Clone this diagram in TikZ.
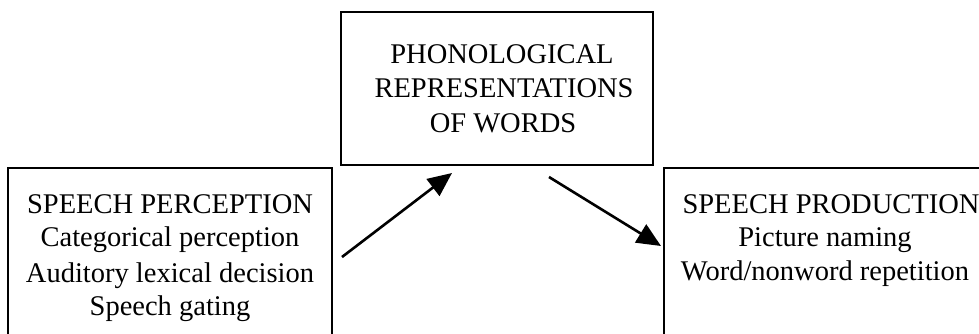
\documentclass[tikz,border=0pt]{standalone}
\usepackage{fontspec}
\setmainfont{Liberation Serif}
\usetikzlibrary{arrows.meta}
\begin{document}
\begin{tikzpicture}[x=1pt,y=-1pt,
  boxline/.style={draw=black,line width=2pt},
  lbl/.style={font=\fontsize{28.5}{33.5}\selectfont,align=center,inner sep=0pt,anchor=base},
  arr/.style={line width=2.6pt,-{Triangle[length=24pt,width=21pt]}}]
\useasboundingbox (0,0) rectangle (979,333);
\clip (0,0) rectangle (979,333);
\fill[white] (0,0) rectangle (979,333);
% boxes
\draw[boxline] (341,12) rectangle (653,165);
\draw[boxline] (8,168) rectangle (332,350);
\draw[boxline] (664,168) rectangle (995,350);
\coordinate (tb) at (497,88);
\coordinate (lb) at (170,260);
\coordinate (rb) at (825,260);
% text
\node[lbl] (t1) at (502,63) {PHONOLOGICAL};
\node[lbl] (t2) at (504,97.5) {REPRESENTATIONS};
\node[lbl] (t3) at (503,132) {OF WORDS};
\node[lbl] (l1) at (170,213) {SPEECH PERCEPTION};
\node[lbl] (l2) at (170,246.5) {Categorical perception};
\node[lbl] (l3) at (170,282) {Auditory lexical decision};
\node[lbl] (l4) at (170,315.5) {Speech gating};
\node[lbl] (r1) at (831,213) {SPEECH PRODUCTION};
\node[lbl] (r2) at (825,246.5) {Picture naming};
\node[lbl] (r3) at (825,280) {Word/nonword repetition};
% arrows
\coordinate (a1s) at (342,257);
\coordinate (a1e) at (452,173);
\coordinate (a2s) at (549,177);
\coordinate (a2e) at (661,246);
\draw[arr] (a1s) -- (a1e);
\draw[arr] (a2s) -- (a2e);
\end{tikzpicture}
\end{document}
